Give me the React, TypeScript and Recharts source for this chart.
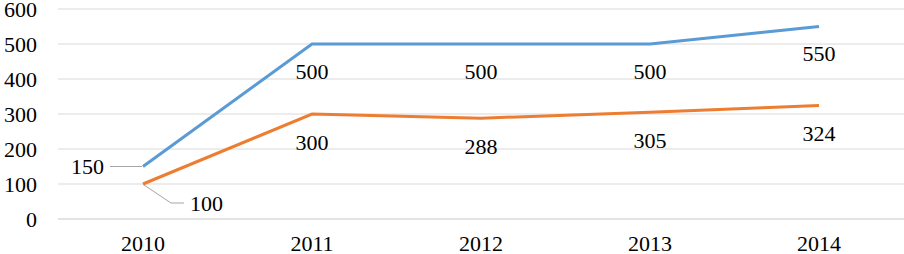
import React from 'react';
import { LineChart, Line, XAxis, YAxis, CartesianGrid, LabelList } from 'recharts';

const years = ['2010', '2011', '2012', '2013', '2014'];
const blueValues = [150, 500, 500, 500, 550];
const orangeValues = [100, 300, 288, 305, 324];
const yTicks = [0, 100, 200, 300, 400, 500, 600];

const data = years.map((year, i) => ({ year, blue: blueValues[i], orange: orangeValues[i] }));

const FONT = 'Liberation Serif';
const LEADER = '#a6a6a6';
const textStyle = { fontFamily: FONT, fontSize: 22 };
const css = `#root svg text, #root svg tspan { font-family: 'Liberation Serif', serif !important; font-size: 22px !important; }`;

// Excel-style "below" labels, first point gets a leader line
const BlueLabel = (props: any) => {
  const { x, y, value, index } = props;
  if (index === 0) {
    return (
      <g>
        <line x1={x - 33} y1={y} x2={x - 1} y2={y} stroke={LEADER} strokeWidth={1} />
        <text x={x - 39} y={y} dy="0.35em" textAnchor="end" fontFamily={FONT} style={textStyle} fill="#000">{value}</text>
      </g>
    );
  }
  return (
    <text x={x} y={y + 27} dy="0.35em" textAnchor="middle" fontFamily={FONT} style={textStyle} fill="#000">{value}</text>
  );
};

const OrangeLabel = (props: any) => {
  const { x, y, value, index } = props;
  if (index === 0) {
    return (
      <g>
        <polyline points={`${x + 1},${y + 1} ${x + 28},${y + 19} ${x + 41},${y + 19}`} fill="none" stroke={LEADER} strokeWidth={1} />
        <text x={x + 47} y={y + 19} dy="0.35em" textAnchor="start" fontFamily={FONT} style={textStyle} fill="#000">{value}</text>
      </g>
    );
  }
  return (
    <text x={x} y={y + 28} dy="0.35em" textAnchor="middle" fontFamily={FONT} style={textStyle} fill="#000">{value}</text>
  );
};

export default function App() {
  return (
    <div style={{ position: 'absolute', left: 0, top: 0, background: '#fff', fontFamily: FONT }}>
      <style>{css}</style>
      <LineChart width={904} height={254} data={data} margin={{ top: 9, right: 0, bottom: 0, left: 0 }}>
        <CartesianGrid vertical={false} stroke="#d9d9d9" strokeWidth={1} />
        <XAxis
          dataKey="year"
          height={35}
          padding={{ left: 85, right: 85 }}
          axisLine={{ stroke: '#d9d9d9' }}
          tickLine={false}
          tickSize={0}
          tickMargin={16}
          interval={0}
          tick={{ fontFamily: FONT, fontSize: 22, fill: '#000' }}
        />
        <YAxis
          width={58}
          domain={[0, 600]}
          ticks={yTicks}
          interval={0}
          axisLine={false}
          tickLine={false}
          tickSize={0}
          tickMargin={21}
          tick={{ fontFamily: FONT, fontSize: 22, fill: '#000' }}
        />
        <Line type="linear" dataKey="blue" stroke="#5b9bd5" strokeWidth={3} dot={false} isAnimationActive={false}>
          <LabelList dataKey="blue" content={BlueLabel} />
        </Line>
        <Line type="linear" dataKey="orange" stroke="#ed7d31" strokeWidth={3} dot={false} isAnimationActive={false}>
          <LabelList dataKey="orange" content={OrangeLabel} />
        </Line>
      </LineChart>
    </div>
  );
}
